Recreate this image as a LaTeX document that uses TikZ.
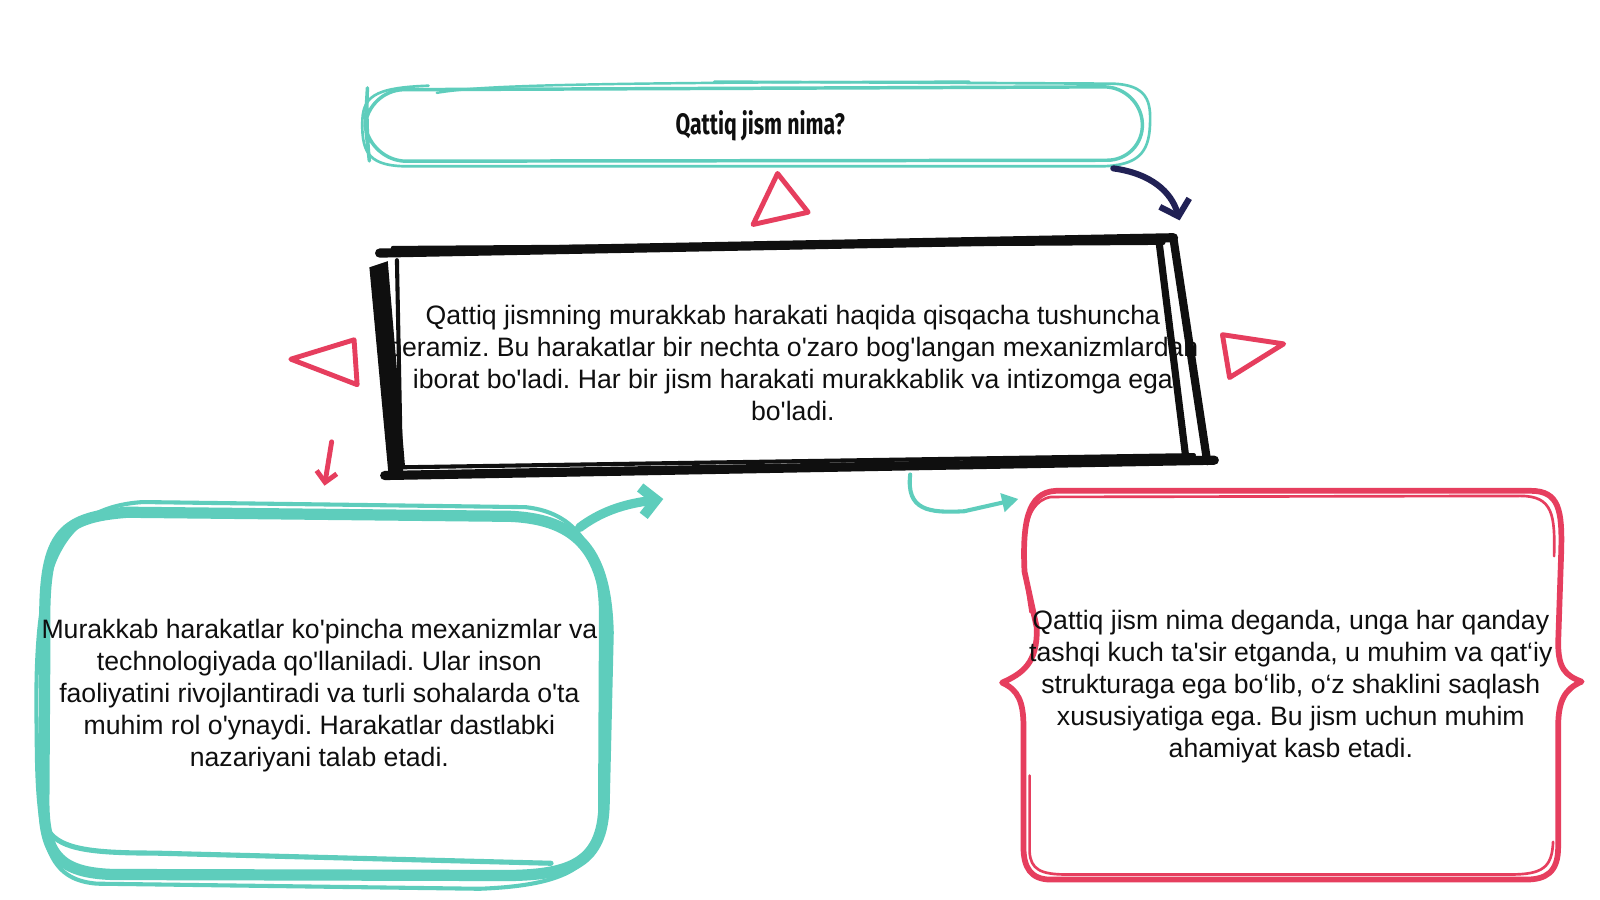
\documentclass[tikz,border=0pt]{standalone}
\usepackage{fontspec}
\usetikzlibrary{arrows.meta}
\newfontfamily\bodyfont{Liberation Sans}
\newfontfamily\titlefont[FakeStretch=0.72]{Fira Sans Bold}
\definecolor{tealc}{RGB}{94,205,188}
\definecolor{pinkc}{RGB}{230,62,94}
\definecolor{navyc}{RGB}{33,33,85}
\definecolor{inkc}{RGB}{15,15,15}
\tikzset{
  bodytext/.style={align=center, font=\bodyfont\fontsize{13.05}{15.65}\selectfont\frenchspacing, text=inkc, inner sep=0pt},
  titletext/.style={font=\titlefont\fontsize{14.5}{16}\selectfont, text=inkc, inner sep=0pt},
  tri/.style={draw=pinkc, line width=2.4pt, line join=round},
  blk/.style={draw=inkc, line width=4.5pt, line cap=round},
  tealline/.style={draw=tealc, line cap=round, line join=round},
  pinkline/.style={draw=pinkc, line cap=round, line join=round},
}
\begin{document}
\begin{tikzpicture}[x=0.5pt,y=-0.5pt]
\useasboundingbox (0,0) rectangle (1568,882);
\fill[white] (0,0) rectangle (1568,882);

% ---------- title box ----------
\draw[tealline, line width=1.7pt, rounded corners=18pt]
  (358,122) -- (360,88) -- (1118,85) -- (1121,157) -- (362,158) -- cycle;
\draw[tealline, line width=1.3pt]
  (700,80) -- (1090,82) .. controls (1125,83) and (1128,100) .. (1127,122)
  .. controls (1126,150) and (1115,162) .. (1080,163) -- (400,163)
  .. controls (362,163) and (355,150) .. (355,122)
  .. controls (355,95) and (365,86) .. (420,84);
\draw[tealline, line width=1.2pt] (428,91) .. controls (470,84) and (550,81) .. (950,80);
\node[titletext] (title) at (745,123) {Qattiq jism nima?};

% ---------- decorative triangles ----------
\draw[tri] (762,170) -- (738,220) -- (792,208) -- cycle;
\draw[tri] (285,352) -- (347,333) -- (350,377) -- cycle;
\draw[tri] (1198,328) -- (1258,337) -- (1205,370) -- cycle;

% ---------- main text ----------
\node[bodytext] (main) at (777,356) {Qattiq jismning murakkab harakati haqida qisqacha tushuncha\\
beramiz. Bu harakatlar bir nechta o'zaro bog'langan mexanizmlardan\\
iborat bo'ladi. Har bir jism harakati murakkablik va intizomga ega\\
bo'ladi.};

% ---------- black box ----------
\draw[blk] (372,248) -- (1150,233);
\draw[blk, line width=2pt] (385,243) -- (1140,238);
\fill[inkc] (362,262) -- (380,256) -- (397,458) -- (381,468) -- cycle;
\draw[blk, line width=2pt] (389,255) -- (393,462);
\draw[blk, line width=3.5pt] (1136,238) -- (1162,448);
\draw[blk, line width=4pt] (1150,234) -- (1183,452);
\draw[blk] (377,466) -- (1190,451);
\draw[blk, line width=2pt] (390,458) -- (1170,446);

% ---------- left teal box ----------
\draw[tealline, line width=5.5pt]
  (44,620) .. controls (42,525) and (58,507) .. (125,502) -- (500,506)
  .. controls (568,509) and (594,542) .. (596,620) -- (592,790)
  .. controls (590,845) and (560,857) .. (500,858) -- (110,857)
  .. controls (58,855) and (42,838) .. (43,780) -- cycle;
\draw[tealline, line width=2pt]
  (36,720) .. controls (33,570) and (48,498) .. (140,492) -- (515,497)
  .. controls (572,503) and (588,548) .. (589,600) -- (588,805)
  .. controls (586,852) and (548,868) .. (470,871) -- (95,866)
  .. controls (48,862) and (36,830) .. (36,720);
\draw[tealline, line width=2.5pt]
  (48,815) .. controls (60,832) and (90,836) .. (150,836) -- (540,846);
\node[bodytext] (left) at (313,682) {Murakkab harakatlar ko'pincha mexanizmlar va\\
technologiyada qo'llaniladi. Ular inson\\
faoliyatini rivojlantiradi va turli sohalarda o'ta\\
muhim rol o'ynaydi. Harakatlar dastlabki\\
nazariyani talab etadi.};

% ---------- right pink box ----------
\draw[pinkline, line width=2.8pt]
  (1004,560) .. controls (1002,515) and (1006,482) .. (1035,481) -- (1500,481)
  .. controls (1528,481) and (1531,500) .. (1530,540) -- (1527,630)
  .. controls (1527,655) and (1534,662) .. (1550,668)
  .. controls (1534,675) and (1527,686) .. (1527,712) -- (1527,830)
  .. controls (1527,855) and (1515,862) .. (1495,862) -- (1030,862)
  .. controls (1010,862) and (1003,850) .. (1003,830) -- (1003,712)
  .. controls (1003,688) and (998,676) .. (982,669)
  .. controls (1002,660) and (1017,650) .. (1016,615) -- cycle;
\draw[pinkline, line width=1.3pt]
  (1010,600) .. controls (1000,540) and (1000,492) .. (1030,487) -- (1490,486)
  .. controls (1522,486) and (1524,505) .. (1523,545);
\draw[pinkline, line width=1.3pt]
  (1009,760) -- (1009,835) .. controls (1010,852) and (1020,857) .. (1045,857) -- (1480,857)
  .. controls (1512,857) and (1521,850) .. (1522,825);
\node[bodytext] (right) at (1265,673) {Qattiq jism nima deganda, unga har qanday\\
tashqi kuch ta'sir etganda, u muhim va qat‘iy\\
strukturaga ega bo‘lib, o‘z shaklini saqlash\\
xususiyatiga ega. Bu jism uchun muhim\\
ahamiyat kasb etadi.};

% ---------- connectors ----------
\coordinate (nvS) at (1091,165);
\coordinate (nvE) at (1156,216);
\draw[navyc, line width=3pt, line cap=round, -{Straight Barb[length=7pt,width=15pt,line width=3pt]}]
  (nvS) .. controls (1128,170) and (1148,188) .. (nvE);

\coordinate (pkS) at (325,433);
\coordinate (pkE) at (318,476);
\draw[pinkc, line width=2.4pt, line cap=round, -{Straight Barb[length=5pt,width=10pt,line width=2.4pt]}]
  (pkS) -- (pkE);

\coordinate (t1S) at (568,517);
\coordinate (t1E) at (650,489);
\draw[tealc, line width=4.5pt, line cap=round, -{Straight Barb[length=7pt,width=14pt,line width=5pt]}]
  (t1S) .. controls (588,502) and (610,494) .. (t1E);

\coordinate (t2S) at (892,465);
\coordinate (t2E) at (998,489);
\draw[tealc, line width=2pt, line cap=round, -{Triangle[length=8pt,width=9pt]}]
  (t2S) .. controls (888,500) and (910,503) .. (945,501) -- (t2E);
\end{tikzpicture}
\end{document}
